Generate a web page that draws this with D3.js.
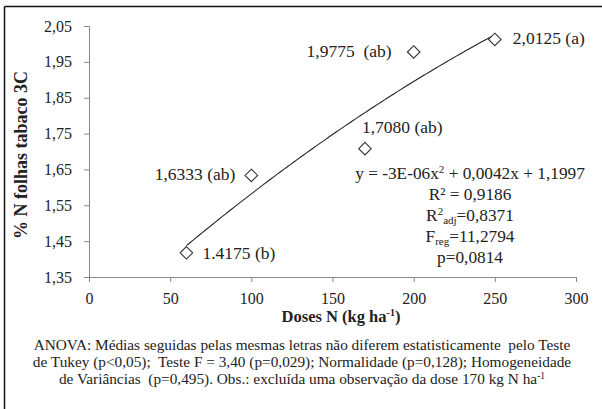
<!DOCTYPE html>
<html>
<head>
<meta charset="utf-8">
<script src="https://cdn.jsdelivr.net/npm/d3@7"></script>
</head>
<body style="margin:0;background:#fff">
<svg id="chart" width="602" height="409"></svg>
<script>
// Doses of N (kg/ha) and mean % N in tobacco leaves
const doses = [60, 100, 170, 200, 250];
const nPercent = [1.4175, 1.6333, 1.7080, 1.9775, 2.0125];
const pointLabels = ["1.4175 (b)", "1,6333 (ab)", "1,7080 (ab)", "1,9775  (ab)", "2,0125 (a)"];
const xTicks = [0, 50, 100, 150, 200, 250, 300];
const yTicks = [1.35, 1.45, 1.55, 1.65, 1.75, 1.85, 1.95, 2.05];
const footer = [
  "ANOVA: Médias seguidas pelas mesmas letras não diferem estatisticamente  pelo Teste",
  "de Tukey (p<0,05);  Teste F = 3,40 (p=0,029); Normalidade (p=0,128); Homogeneidade",
  "de Variâncias  (p=0,495). Obs.: excluída uma observação da dose 170 kg N ha"
];

const FONT = "Liberation Serif";
const svg = d3.select("#chart");
const x = d3.scaleLinear().domain([0, 300]).range([89, 576]);
const y = d3.scaleLinear().domain([1.35, 2.05]).range([277, 26]);
const fmt = d3.format(".2f");
const comma = v => fmt(v).replace(".", ",");

// frame (top and left edges)
svg.append("line").attr("x1", 4.5).attr("x2", 602).attr("y1", 6.5).attr("y2", 6.5)
  .attr("stroke", "#111").attr("stroke-width", 1.5);
svg.append("line").attr("x1", 4.5).attr("x2", 4.5).attr("y1", 6.5).attr("y2", 409)
  .attr("stroke", "#111").attr("stroke-width", 1.5);

// axes
const xAxis = svg.append("g").attr("transform", "translate(0,277)")
  .call(d3.axisBottom(x).tickValues(xTicks).tickSize(5).tickPadding(11));
const yAxis = svg.append("g").attr("transform", "translate(89,0)")
  .call(d3.axisLeft(y).tickValues(yTicks).tickSize(5).tickPadding(12).tickFormat(comma));
[xAxis, yAxis].forEach(g => {
  g.attr("font-family", null).attr("font-size", null);
  g.select(".domain").attr("stroke", "#888");
  g.selectAll(".tick line").attr("stroke", "#888");
  g.selectAll("text").attr("fill", "#222").style("font-size", "16px");
});

// quadratic least-squares trend over the means
function quadFit(xs, ys) {
  const S = k => d3.sum(xs, v => Math.pow(v, k));
  const T = k => d3.sum(xs, (v, i) => Math.pow(v, k) * ys[i]);
  const A = [[S(4), S(3), S(2)], [S(3), S(2), S(1)], [S(2), S(1), xs.length]];
  const b = [T(2), T(1), T(0)];
  const det = m => m[0][0]*(m[1][1]*m[2][2]-m[1][2]*m[2][1]) - m[0][1]*(m[1][0]*m[2][2]-m[1][2]*m[2][0]) + m[0][2]*(m[1][0]*m[2][1]-m[1][1]*m[2][0]);
  const D = det(A);
  return [0, 1, 2].map(c => det(A.map((row, r) => row.map((v, j) => j === c ? b[r] : v))) / D);
}
const [qa, qb, qc] = quadFit(doses, nPercent);
const trend = d3.range(60, 250.01, 2).map(d => [d, qa * d * d + qb * d + qc]);
svg.append("path").datum(trend)
  .attr("d", d3.line().x(d => x(d[0])).y(d => y(d[1])))
  .attr("fill", "none").attr("stroke", "#222").attr("stroke-width", 1.1);

// markers
svg.selectAll("path.pt").data(doses).join("path").attr("class", "pt")
  .attr("transform", (d, i) => `translate(${x(d)},${y(nPercent[i])})`)
  .attr("d", d3.symbol().type(d3.symbolDiamond2).size(100))
  .attr("fill", "#fff").attr("stroke", "#333").attr("stroke-width", 1.1);

const txt = svg.append("g").attr("fill", "#222");

// point labels
const labelOffsets = [[16, 6, "start"], [-16, 5, "end"], [-3, -16, "start"], [-22, 5, "end"], [18, 5, "start"]];
txt.selectAll("text.pl").data(doses).join("text").attr("class", "pl")
  .attr("x", (d, i) => x(d) + labelOffsets[i][0])
  .attr("y", (d, i) => y(nPercent[i]) + labelOffsets[i][1])
  .attr("text-anchor", (d, i) => labelOffsets[i][2])
  .style("font-size", "17.5px")
  .style("white-space", "pre")
  .text((d, i) => pointLabels[i]);

// regression summary
const eq = txt.append("g").attr("text-anchor", "middle");
const big = sel => sel.style("font-size", "17.3px");
const sup = sel => sel.style("font-size", "11px");
const t1 = eq.append("text").attr("x", 470).attr("y", 179).call(big);
t1.append("tspan").text("y = -3E-06x");
t1.append("tspan").call(sup).attr("dy", -6).text("2");
t1.append("tspan").attr("dy", 6).text(" + 0,0042x + 1,1997");
eq.append("text").attr("x", 470).attr("y", 200).call(big).text("R² = 0,9186");
const t3 = eq.append("text").attr("x", 470).attr("y", 221).call(big);
t3.append("tspan").text("R");
t3.append("tspan").call(sup).attr("dy", -6).text("2");
t3.append("tspan").call(sup).attr("dy", 9).text("adj");
t3.append("tspan").attr("dy", -3).text("=0,8371");
const t4 = eq.append("text").attr("x", 470).attr("y", 242).call(big);
t4.append("tspan").text("F");
t4.append("tspan").call(sup).attr("dy", 3).text("reg");
t4.append("tspan").attr("dy", -3).text("=11,2794");
eq.append("text").attr("x", 470).attr("y", 263).call(big).text("p=0,0814");

// axis titles
const xt = txt.append("text").attr("x", 341).attr("y", 322).attr("text-anchor", "middle")
  .style("font-size", "16.5px").style("font-weight", "bold");
xt.append("tspan").text("Doses N (kg ha");
xt.append("tspan").style("font-size", "10px").attr("dy", -6).text("-1");
xt.append("tspan").attr("dy", 6).text(")");
txt.append("text").attr("transform", "translate(27,155) rotate(-90)").attr("text-anchor", "middle")
  .style("font-size", "18px").style("font-weight", "bold")
  .text("% N folhas tabaco 3C");

// footnote
const fn = txt.append("g").attr("text-anchor", "middle");
footer.forEach((line, i) => {
  const t = fn.append("text").attr("x", 302).attr("y", 350 + i * 16.8)
    .style("font-size", "15.3px").style("white-space", "pre");
  t.append("tspan").text(line);
  if (i === 2) t.append("tspan").style("font-size", "9.5px").attr("dy", -5).text("-1");
});

// serif face on every text element
svg.selectAll("text, tspan").style("font-family", FONT);
</script>
</body>
</html>
